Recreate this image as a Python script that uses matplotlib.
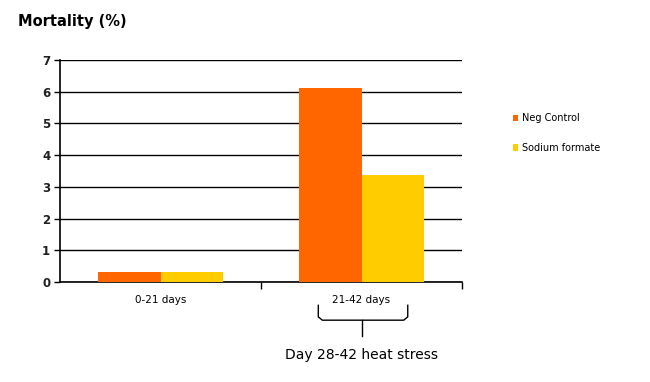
import matplotlib.pyplot as plt
import numpy as np

groups = ['0-21 days', '21-42 days']
neg_control = [0.33, 6.13]
sodium_formate = [0.33, 3.38]
series_names = ['Neg Control', 'Sodium formate']
colors = ['#FF6600', '#FFCC00']

fig = plt.figure(figsize=(6.5, 3.82), dpi=100)
ax = fig.add_axes([0.0923, 0.2618, 0.6185, 0.5812])

x = np.arange(len(groups))
w = 0.31
b1 = ax.bar(x - w / 2, neg_control, w, color=colors[0], label=series_names[0], zorder=3)
b2 = ax.bar(x + w / 2, sodium_formate, w, color=colors[1], label=series_names[1], zorder=3)

ax.set_xlim(-0.5, 1.5)
ax.set_ylim(0, 7)
ax.set_yticks(range(8))
ax.yaxis.grid(True, color='black', linewidth=1, zorder=0)
for s in ['top', 'right']:
    ax.spines[s].set_visible(False)
ax.spines['left'].set_linewidth(1.2)
ax.spines['bottom'].set_linewidth(1.2)
ax.tick_params(axis='y', labelsize=8.5, length=4, width=1, pad=3)
ax.set_yticklabels([str(i) for i in range(8)], fontweight='bold', color='#202020')

# group labels centered, ticks at group boundaries
ax.set_xticks([0.5, 1.5])
ax.set_xticklabels([])
ax.tick_params(axis='x', length=5, width=1, direction='out')
for xi, g in zip(x, groups):
    ax.text(xi, -0.06, g, transform=ax.get_xaxis_transform(), ha='center', va='top', fontsize=7.5)

# brace under the second group
tr = ax.get_xaxis_transform()
bl, br = 0.785, 1.23
ytop, ybot, ystem = -0.105, -0.172, -0.245
r = 0.02
bx = [bl, bl, bl + r, br - r, br, br]
by = [ytop, ybot + 0.015, ybot, ybot, ybot + 0.015, ytop]
ax.plot(bx, by, color='black', lw=1, transform=tr, clip_on=False)
ax.plot([1.0, 1.0], [ybot, ystem], color='black', lw=1, transform=tr, clip_on=False)
ax.text(1.0, -0.33, 'Day 28-42 heat stress', transform=tr, ha='center', va='center', fontsize=10)

fig.text(0.028, 0.945, 'Mortality (%)', fontsize=10.5, fontweight='bold', va='center', ha='left')

leg = fig.legend(handles=[b1, b2], loc='upper left', bbox_to_anchor=(0.775, 0.727),
                 frameon=False, fontsize=7, handlelength=0.6, handleheight=0.6,
                 handletextpad=0.4, labelspacing=2.05)

plt.savefig('out.png', dpi=100)
